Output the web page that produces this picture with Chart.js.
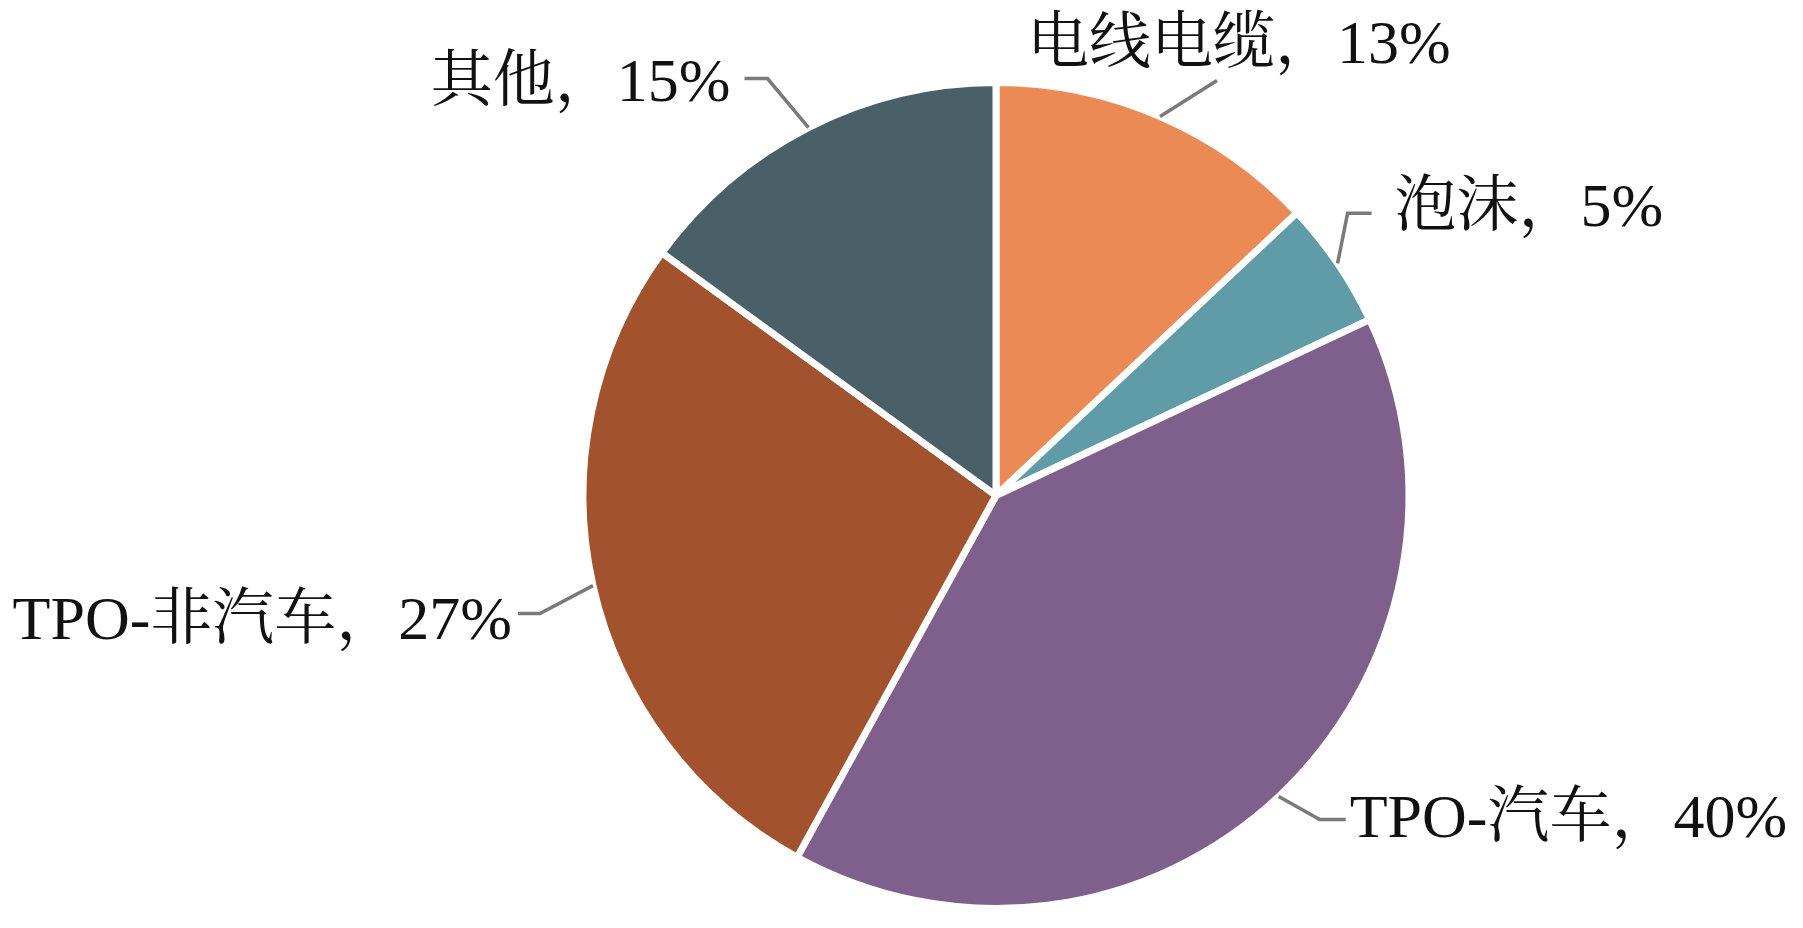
<!DOCTYPE html>
<html>
<head>
<meta charset="utf-8">
<script src="https://cdn.jsdelivr.net/npm/chart.js@4.4.0/dist/chart.umd.min.js"></script>
<style>
  html, body { margin: 0; padding: 0; background: #ffffff; }
  canvas { display: block; }
</style>
</head>
<body>
<canvas id="pieChart" width="1803" height="928"></canvas>
<script>
// Datos del gráfico (en el sentido de las agujas del reloj desde arriba)
const categories = ["电线电缆", "泡沫", "TPO-汽车", "TPO-非汽车", "其他"];
const shares = [13, 5, 40, 27, 15];
const sliceColors = ["#EB8A55", "#5F9CA8", "#7F5F8B", "#A2532D", "#4A6068"];

// Posición de las etiquetas: codo de la línea guía, tramo horizontal y texto
const labelLayout = [
  { elbow: [57, -36], run: 0, text: [-190, -34], align: "left" },
  { elbow: [10, -50], run: 24, text: [23, -4], align: "left" },
  { elbow: [41, 23], run: 26, text: [4, 1], align: "left" },
  { elbow: [-53, 28], run: -22, text: [-6, 9], align: "right" },
  { elbow: [-41, -49], run: -23, text: [-14, 6], align: "right" },
];

const labelFont = '62px "Liberation Serif", "Noto Serif CJK SC", "Noto Sans CJK SC", serif';

// Plugin para dibujar etiquetas con líneas guía
const leaderLabels = {
  id: "leaderLabels",
  afterDatasetsDraw(chart) {
    const ctx = chart.ctx;
    const meta = chart.getDatasetMeta(0);
    ctx.save();
    meta.data.forEach((arc, i) => {
      const { x, y, startAngle, endAngle, outerRadius } = arc.getProps(
        ["x", "y", "startAngle", "endAngle", "outerRadius"],
        true
      );
      const mid = (startAngle + endAngle) / 2;
      const px = x + Math.cos(mid) * outerRadius;
      const py = y + Math.sin(mid) * outerRadius;
      const lay = labelLayout[i];
      const ex = px + lay.elbow[0];
      const ey = py + lay.elbow[1];
      const hx = ex + lay.run;

      ctx.strokeStyle = "#7a7a7a";
      ctx.lineWidth = 3.5;
      ctx.beginPath();
      ctx.moveTo(px, py);
      ctx.lineTo(ex, ey);
      ctx.lineTo(hx, ey);
      ctx.stroke();

      ctx.fillStyle = "#111111";
      ctx.font = labelFont;
      ctx.textAlign = lay.align;
      ctx.textBaseline = "middle";
      ctx.fillText(categories[i] + "，" + shares[i] + "%", hx + lay.text[0], ey + lay.text[1]);
    });
    ctx.restore();
  },
};

const ctxPie = document.getElementById("pieChart").getContext("2d");

new Chart(ctxPie, {
  type: "pie",
  data: {
    labels: categories,
    datasets: [
      {
        data: shares,
        backgroundColor: sliceColors,
        borderColor: "#ffffff",
        borderWidth: 7,
      },
    ],
  },
  options: {
    responsive: false,
    animation: false,
    layout: {
      padding: { left: 579, right: 390, top: 79, bottom: 16 },
    },
    plugins: {
      legend: { display: false },
      tooltip: { enabled: false },
    },
  },
  plugins: [leaderLabels],
});
</script>
</body>
</html>
